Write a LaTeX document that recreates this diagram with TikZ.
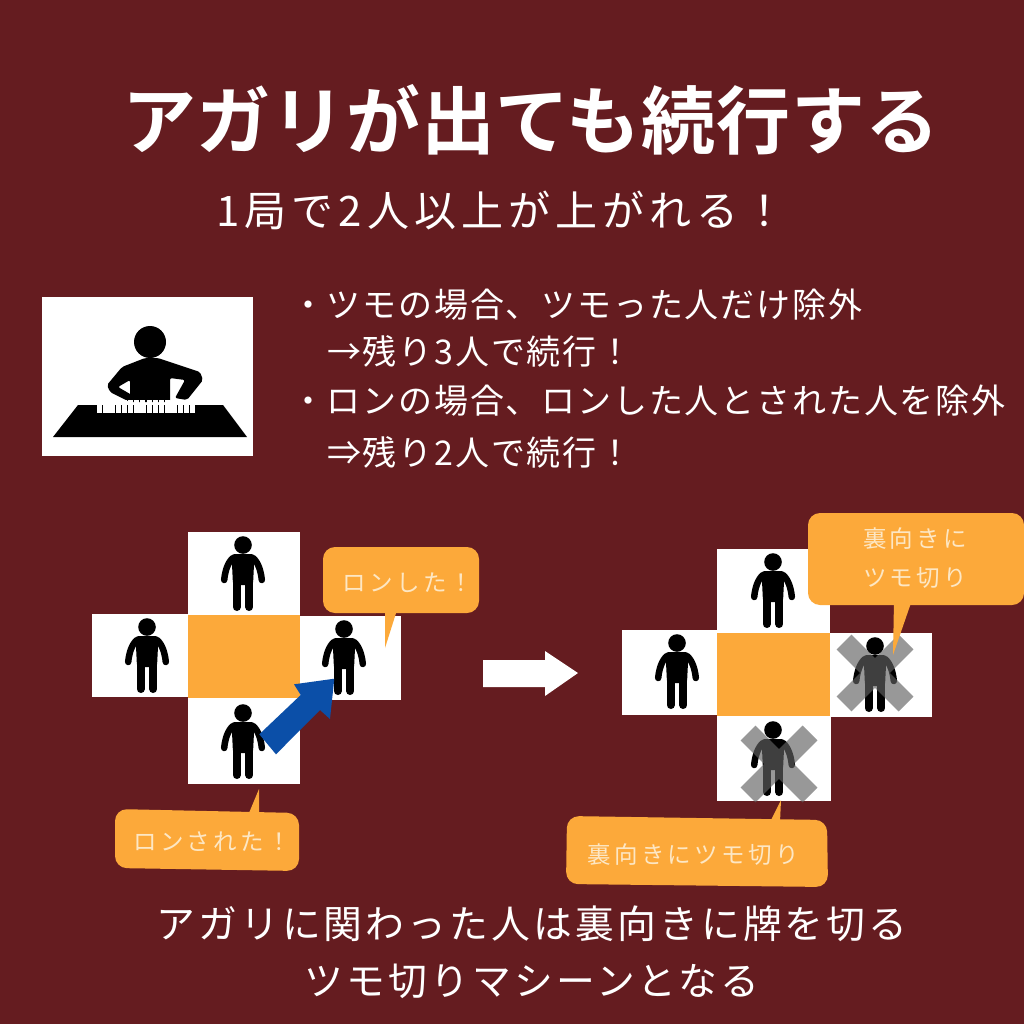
\documentclass[tikz,border=0pt]{standalone}
\usepackage{fontspec}
\setmainfont{Noto Sans CJK JP}[BoldFont={Noto Sans CJK JP Bold}]
\newfontfamily\jptitle{Noto Sans CJK JP Bold}[LetterSpace=1]
\newfontfamily\jpsub{Noto Sans CJK JP}[LetterSpace=12]
\newfontfamily\jpfoot{Noto Sans CJK JP}[LetterSpace=8]
\newfontfamily\jpbody{Noto Sans CJK JP}[LetterSpace=5.3]
\newfontfamily\jpcall{Noto Sans CJK JP}[LetterSpace=14]
\definecolor{bgred}{HTML}{651C20}
\definecolor{tileorange}{HTML}{FCA93A}
\definecolor{paletext}{HTML}{FDE7C4}
\definecolor{arrowblue}{HTML}{0B4FA8}
\definecolor{xgray}{RGB}{98,98,98}
\tikzset{
  x=1pt,y=-1pt,
  titletext/.style={text=white,inner sep=0pt,font={\fontsize{74}{80}\selectfont\jptitle}},
  subtext/.style={text=white,inner sep=0pt,font={\fontsize{42}{48}\selectfont\jpsub}},
  bodytext/.style={text=white,inner sep=0pt,anchor=west,font={\fontsize{34}{38}\selectfont\jpbody}},
  foottext/.style={text=white,inner sep=0pt,font={\fontsize{38.8}{44}\selectfont\jpfoot}},
  calltext/.style={text=paletext,inner sep=0pt,align=center,font={\fontsize{23.5}{39}\selectfont\jpcall}},
  cell/.style={fill=white,draw=none},
  core/.style={fill=tileorange,draw=none},
  bubble/.style={fill=tileorange,draw=none,rounded corners=12pt},
  cross/.style={draw=xgray,draw opacity=.65,line width=21pt},
  person/.pic={
    \fill[black] (0,0) circle (8.8);
    \fill[black,rounded corners=3pt] (-11.5,9) -- (11.5,9) -- (10,40) -- (-10,40) -- cycle;
    \draw[black,line width=6.5pt,line cap=round] (-10,13) .. controls (-15,17) and (-18,26) .. (-18.8,35);
    \draw[black,line width=6.5pt,line cap=round] (10,13) .. controls (15,17) and (18,26) .. (18.8,35);
    \draw[black,line width=8pt,line cap=round] (-6.3,36) -- (-6.3,62);
    \draw[black,line width=8pt,line cap=round] (6.3,36) -- (6.3,62);
  }
}
\begin{document}
\begin{tikzpicture}
\useasboundingbox (0,0) rectangle (1024,1024);
\fill[bgred] (0,0) rectangle (1024,1024);

% headings
\node[titletext] (title) at (531,120) {アガリが出ても続行する};
\node[subtext] (subtitle) at (501,210) {1局で2人以上が上がれる！};
\node[bodytext] (l1) at (291,305) {・ツモの場合、ツモった人だけ除外};
\node[bodytext] (l2) at (327,351) {→残り3人で続行！};
\node[bodytext] (l3) at (291,401) {・ロンの場合、ロンした人とされた人を除外};
\node[bodytext] (l4) at (327,452) {⇒残り2人で続行！};

% player picture
\fill[white] (42,297) rectangle (253,456);
\fill[black] (150,342) circle (16);
\fill[black,rounded corners=2pt] (145,358) -- (158,358) -- (200,372) -- (203,380) -- (187,400) -- (175,398) -- (185,380) -- (170,378) -- (170,402) -- (130,402) -- (130,380) -- (118,387) -- (137,398) -- (130,402) -- (110,392) -- (107,385) -- (122,367) -- cycle;
\fill[black] (78,405) -- (223,405) -- (247,437) -- (53,437) -- cycle;
\foreach \i in {0,...,15}{
  \fill[white] ({97+\i*6.2},400) rectangle ({102+\i*6.2},403.5);
  \fill[white] ({97+\i*6.2},404.5) rectangle ({102.4+\i*6.2},413);
}

% left board
\fill[cell] (188,532) rectangle (300,615);
\fill[cell] (92,614) rectangle (188,697);
\fill[cell] (300,616) rectangle (401,700);
\fill[cell] (188,698) rectangle (300,784);
\fill[core] (188,615) rectangle (300,698);
\pic at (243,545) {person};
\pic at (147,627) {person};
\pic at (344,629) {person};
\pic at (243,713) {person};
\fill[arrowblue] (259.3,734.3) -- (300.7,695) -- (294,684.3) -- (334.3,678.7) -- (330,719) -- (320,710) -- (276,754.3) -- cycle;

\fill[tileorange] (385,610) -- (397,610) -- (385,648) -- cycle;
\fill[bubble] (323,547) rectangle (479,613);
\node[calltext] (ronshita) at (408,583) {ロンした！};
\fill[tileorange] (249,813) -- (259,813) -- (259,789) -- cycle;
\fill[bubble] (115,809) -- (299,813) -- (299,871) -- (115,868) -- cycle;
\node[calltext] (ronsareta) at (212,842) {ロンされた！};

% transition arrow
\fill[white] (483,660) -- (545,660) -- (545,651) -- (578,673) -- (545,696) -- (545,687) -- (483,687) -- cycle;

% right board
\fill[cell] (717,549) rectangle (830,633);
\fill[cell] (622,630) rectangle (717,715);
\fill[cell] (830,633) rectangle (932,717);
\fill[cell] (717,716) rectangle (831,801);
\fill[core] (717,633) rectangle (830,716);
\pic at (773,562) {person};
\pic at (677,643) {person};
\pic at (875,646) {person};
\pic at (773,730) {person};
\draw[cross] (844,642) -- (906,704) (906,642) -- (844,704);
\draw[cross] (748,733) -- (810,795) (810,733) -- (748,795);

\fill[tileorange] (894,600) -- (912,600) -- (893,655) -- cycle;
\fill[bubble] (808,513) -- (1024,513) -- (1024,605) -- (808,605) -- cycle;
\node[calltext] (urakita) at (915,558) {裏向きに\\ツモ切り};
\fill[tileorange] (770,822) -- (780,822) -- (781,800) -- cycle;
\fill[bubble] (567,816) -- (827,820) -- (828,887) -- (566,884) -- cycle;
\node[calltext] (urayoko) at (693,855) {裏向きにツモ切り};

% footer
\node[foottext] (f1) at (532,924) {アガリに関わった人は裏向きに牌を切る};
\node[foottext] (f2) at (532,981) {ツモ切りマシーンとなる};
\end{tikzpicture}
\end{document}
